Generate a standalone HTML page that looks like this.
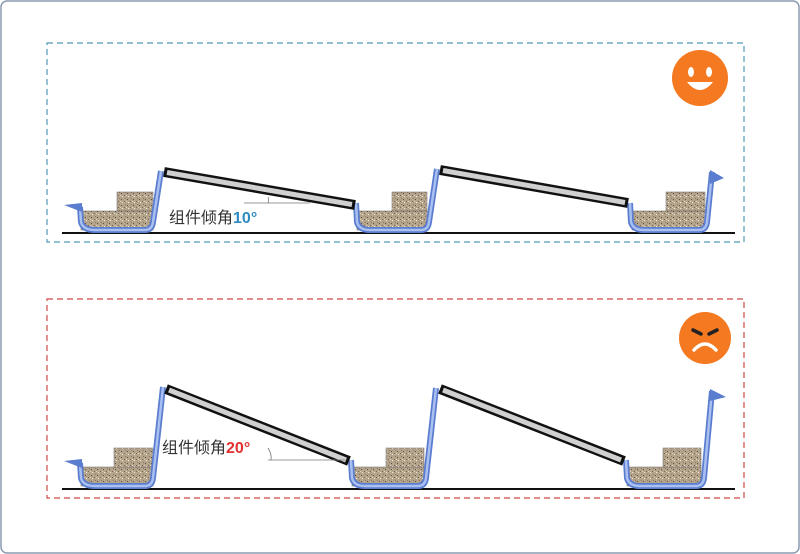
<!DOCTYPE html>
<html><head><meta charset="utf-8"><style>
html,body{margin:0;padding:0;background:#fff;}
svg{display:block;}
text{font-family:"Liberation Sans","Noto Sans CJK SC",sans-serif;}
</style></head><body>
<svg width="800" height="554" viewBox="0 0 800 554" xmlns="http://www.w3.org/2000/svg">
<rect x="1" y="1" width="798" height="552" rx="6" fill="#fff" stroke="#8a9bb0" stroke-width="1.5"/>
<defs>
<pattern id="sand" width="6" height="6" patternUnits="userSpaceOnUse">
<rect width="6" height="6" fill="#b5a48c"/>
<rect x="1" y="1" width="1" height="1" fill="#5e4e3e"/><rect x="4" y="3" width="1" height="1" fill="#7a6650"/>
<rect x="2" y="4" width="1" height="1" fill="#f2ebdf"/><rect x="5" y="0" width="1" height="1" fill="#8c7660"/>
<rect x="0" y="3" width="1" height="1" fill="#e0d4c2"/>
</pattern>
</defs>
<rect x="47" y="43" width="697" height="199" fill="none" stroke="#4f9ab8" stroke-width="1.2" stroke-dasharray="6,4"/>
<rect x="47" y="299" width="697" height="199" fill="none" stroke="#d04848" stroke-width="1.2" stroke-dasharray="6,4"/>

<g id="top">
<line x1="62" y1="233" x2="735" y2="233" stroke="#111" stroke-width="2"/>
<rect x="81" y="211" width="72" height="19" fill="url(#sand)" stroke="#666" stroke-width="0.5"/>
<rect x="117" y="192" width="36" height="19" fill="url(#sand)" stroke="#666" stroke-width="0.5"/>
<path d="M80 207 L81 222 Q83 230 95 230 L145 230 Q152 230 153 222 L161 171" fill="none" stroke="#5b7dd0" stroke-width="6"/>
<path d="M80 207 L81 222 Q83 230 95 230 L145 230 Q152 230 153 222 L161 171" fill="none" stroke="#aac0f0" stroke-width="2.5"/>
<polygon points="64,205 82,203 82,212" fill="#5b7dd0"/>
<rect x="357" y="211" width="70" height="19" fill="url(#sand)" stroke="#666" stroke-width="0.5"/>
<rect x="392" y="192" width="35" height="19" fill="url(#sand)" stroke="#666" stroke-width="0.5"/>
<path d="M356 203 L357 222 Q359 230 370 230 L421 230 Q428 230 429 222 L437 169" fill="none" stroke="#5b7dd0" stroke-width="6"/>
<path d="M356 203 L357 222 Q359 230 370 230 L421 230 Q428 230 429 222 L437 169" fill="none" stroke="#aac0f0" stroke-width="2.5"/>
<rect x="632" y="211" width="73" height="19" fill="url(#sand)" stroke="#666" stroke-width="0.5"/>
<rect x="666" y="192" width="39" height="19" fill="url(#sand)" stroke="#666" stroke-width="0.5"/>
<path d="M630 203 L631 222 Q633 230 644 230 L699 230 Q706 230 707 222 L712 172" fill="none" stroke="#5b7dd0" stroke-width="6"/>
<path d="M630 203 L631 222 Q633 230 644 230 L699 230 Q706 230 707 222 L712 172" fill="none" stroke="#aac0f0" stroke-width="2.5"/>
<polygon points="710,170 724,178 710,184" fill="#5b7dd0"/>
<line x1="164" y1="172" x2="355" y2="205" stroke="#111" stroke-width="10"/>
<line x1="167" y1="172.5" x2="352" y2="204.5" stroke="#d0d0d0" stroke-width="5"/>
<line x1="440" y1="170" x2="628" y2="203" stroke="#111" stroke-width="10"/>
<line x1="443" y1="170.5" x2="625" y2="202.5" stroke="#d0d0d0" stroke-width="5"/>
<line x1="244" y1="203" x2="310" y2="203" stroke="#777" stroke-width="0.8"/>
<path d="M268 197 Q269 200 268 203" fill="none" stroke="#777" stroke-width="0.8"/>
<text x="169" y="223" font-size="16" fill="#333">组件倾角<tspan font-weight="bold" fill="#2e8bbf">10°</tspan></text>
<circle cx="700" cy="78" r="28" fill="#f47920"/>
<ellipse cx="691" cy="72" rx="3" ry="5" fill="#fff"/>
<ellipse cx="709" cy="72" rx="3" ry="5" fill="#fff"/>
<path d="M687 82 Q700 98 713 82 Z" fill="#fff"/>
</g>

<g id="bottom">
<line x1="62" y1="489" x2="735" y2="489" stroke="#111" stroke-width="2"/>
<rect x="81" y="467" width="72" height="19" fill="url(#sand)" stroke="#666" stroke-width="0.5"/>
<rect x="114" y="448" width="39" height="19" fill="url(#sand)" stroke="#666" stroke-width="0.5"/>
<path d="M80 463 L81 478 Q83 486 95 486 L145 486 Q152 486 153 478 L163 387" fill="none" stroke="#5b7dd0" stroke-width="6"/>
<path d="M80 463 L81 478 Q83 486 95 486 L145 486 Q152 486 153 478 L163 387" fill="none" stroke="#aac0f0" stroke-width="2.5"/>
<polygon points="64,461 82,459 82,468" fill="#5b7dd0"/>
<rect x="352" y="467" width="72" height="19" fill="url(#sand)" stroke="#666" stroke-width="0.5"/>
<rect x="386" y="448" width="38" height="19" fill="url(#sand)" stroke="#666" stroke-width="0.5"/>
<path d="M351 460 L352 478 Q354 486 365 486 L418 486 Q425 486 426 478 L436 388" fill="none" stroke="#5b7dd0" stroke-width="6"/>
<path d="M351 460 L352 478 Q354 486 365 486 L418 486 Q425 486 426 478 L436 388" fill="none" stroke="#aac0f0" stroke-width="2.5"/>
<rect x="627" y="467" width="74" height="19" fill="url(#sand)" stroke="#666" stroke-width="0.5"/>
<rect x="663" y="448" width="38" height="19" fill="url(#sand)" stroke="#666" stroke-width="0.5"/>
<path d="M626 460 L627 478 Q629 486 640 486 L696 486 Q703 486 704 478 L712 391" fill="none" stroke="#5b7dd0" stroke-width="6"/>
<path d="M626 460 L627 478 Q629 486 640 486 L696 486 Q703 486 704 478 L712 391" fill="none" stroke="#aac0f0" stroke-width="2.5"/>
<polygon points="710,389 726,397 710,401" fill="#5b7dd0"/>
<line x1="166" y1="389" x2="349" y2="461" stroke="#111" stroke-width="10"/>
<line x1="169" y1="390" x2="346" y2="460" stroke="#d0d0d0" stroke-width="5"/>
<line x1="440" y1="389" x2="624" y2="461" stroke="#111" stroke-width="10"/>
<line x1="443" y1="390" x2="621" y2="460" stroke="#d0d0d0" stroke-width="5"/>
<line x1="268" y1="460" x2="345" y2="460" stroke="#777" stroke-width="0.8"/>
<path d="M268 448 Q272 454 271 460" fill="none" stroke="#777" stroke-width="0.8"/>
<text x="162" y="453" font-size="16" fill="#333">组件倾角<tspan font-weight="bold" fill="#e03030">20°</tspan></text>
<circle cx="705" cy="338" r="26" fill="#f47920"/>
<path d="M693 330 L701 334" stroke="#222" stroke-width="3.5" stroke-linecap="round"/>
<path d="M717 330 L709 334" stroke="#222" stroke-width="3.5" stroke-linecap="round"/>
<path d="M694 350 Q705 338 716 350" fill="none" stroke="#fff" stroke-width="3.5" stroke-linecap="round"/>
</g>
</svg>
</body></html>
